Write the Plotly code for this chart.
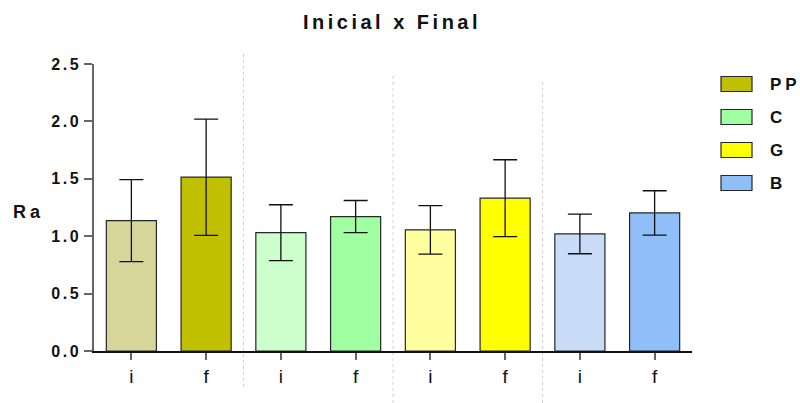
import plotly.graph_objects as go

# Ra roughness, initial (i) vs final (f) for each group
groups = ["PP", "PP", "C", "C", "G", "G", "B", "B"]
stages = ["i", "f", "i", "f", "i", "f", "i", "f"]
means = [1.136, 1.514, 1.031, 1.171, 1.055, 1.331, 1.020, 1.203]
errors = [0.357, 0.506, 0.243, 0.140, 0.211, 0.335, 0.173, 0.193]
bar_colors = ["#D6D69A", "#C0C000", "#CCFFCC", "#A0FFA0",
              "#FFFFA0", "#FFFF00", "#C8DCF8", "#90BEF8"]

legend_names = ["PP", "C", "G", "B"]
legend_colors = ["#C0C000", "#A0FFA0", "#FFFF00", "#90BEF8"]

y_ticks = [0.0, 0.5, 1.0, 1.5, 2.0, 2.5]

FONT = "Liberation Sans, Arial, sans-serif"


def spaced(text, px):
    return f'<span style="letter-spacing:{px}px">{text}</span>'


xpos = list(range(len(means)))

fig = go.Figure()
fig.add_trace(go.Bar(
    x=xpos,
    y=means,
    width=0.67,
    marker=dict(color=bar_colors, line=dict(color="#262626", width=1.2)),
    error_y=dict(type="data", array=errors, symmetric=True,
                 color="#111111", thickness=1.3, width=12),
    showlegend=False,
    hoverinfo="skip",
))

# dotted separators between groups
sep_spans = [(1.5, -0.125, 1.038), (3.5, -0.181, 0.962), (5.5, -0.181, 0.941)]
for xs, y0, y1 in sep_spans:
    fig.add_shape(type="line", xref="x", yref="paper", x0=xs, x1=xs, y0=y0, y1=y1,
                  line=dict(color="#D0D0D0", width=1, dash="dot"), layer="below")

# legend: swatches and labels
for k, (name, col) in enumerate(zip(legend_names, legend_colors)):
    yc = 84 + 33 * k
    fig.add_shape(type="rect", xref="paper", yref="paper",
                  x0=(721 - 94) / 598, x1=(752 - 94) / 598,
                  y0=(351 - (yc + 7.5)) / 287, y1=(351 - (yc - 7.5)) / 287,
                  fillcolor=col, line=dict(color="#262626", width=1.2))
    fig.add_annotation(xref="paper", yref="paper", x=(768 - 94) / 598,
                       y=(351 - yc) / 287, xanchor="left", yanchor="middle",
                       text=spaced(name, 4), showarrow=False,
                       font=dict(family=FONT, size=17, color="#111111", weight="bold"))

# y-axis title, horizontal
fig.add_annotation(xref="paper", yref="paper", x=(28 - 94) / 598, y=(351 - 212) / 287,
                   xanchor="center", yanchor="middle", text=spaced("Ra", 4),
                   showarrow=False,
                   font=dict(family=FONT, size=18, color="#111111", weight="bold"))

fig.update_layout(
    width=800, height=403,
    margin=dict(l=94, r=108, t=64, b=52),
    paper_bgcolor="white", plot_bgcolor="white",
    title=dict(text=spaced("Inicial x Final", 3.5), x=(392) / 800, xanchor="center",
               y=1 - 22 / 403, yanchor="middle",
               font=dict(family=FONT, size=20, color="#111111", weight="bold")),
    bargap=0.33,
)

fig.update_xaxes(
    range=[-0.5, 7.5], tickvals=xpos, ticktext=stages,
    showline=True, linecolor="#111111", linewidth=1.5,
    ticks="outside", ticklen=7, tickwidth=1.5, tickcolor="#666666",
    showgrid=False, zeroline=False,
    tickfont=dict(family=FONT, size=19, color="#111111"),
)
fig.update_yaxes(
    range=[0, 2.5], tickvals=y_ticks,
    ticktext=[spaced(f"{v:.1f}", 2.5) for v in y_ticks],
    showline=True, linecolor="#666666", linewidth=1.5,
    ticks="outside", ticklen=8, tickwidth=1.5, tickcolor="#666666",
    showgrid=False, zeroline=False,
    tickfont=dict(family=FONT, size=16, color="#111111", weight="bold"),
)

fig.write_html("out.html")
